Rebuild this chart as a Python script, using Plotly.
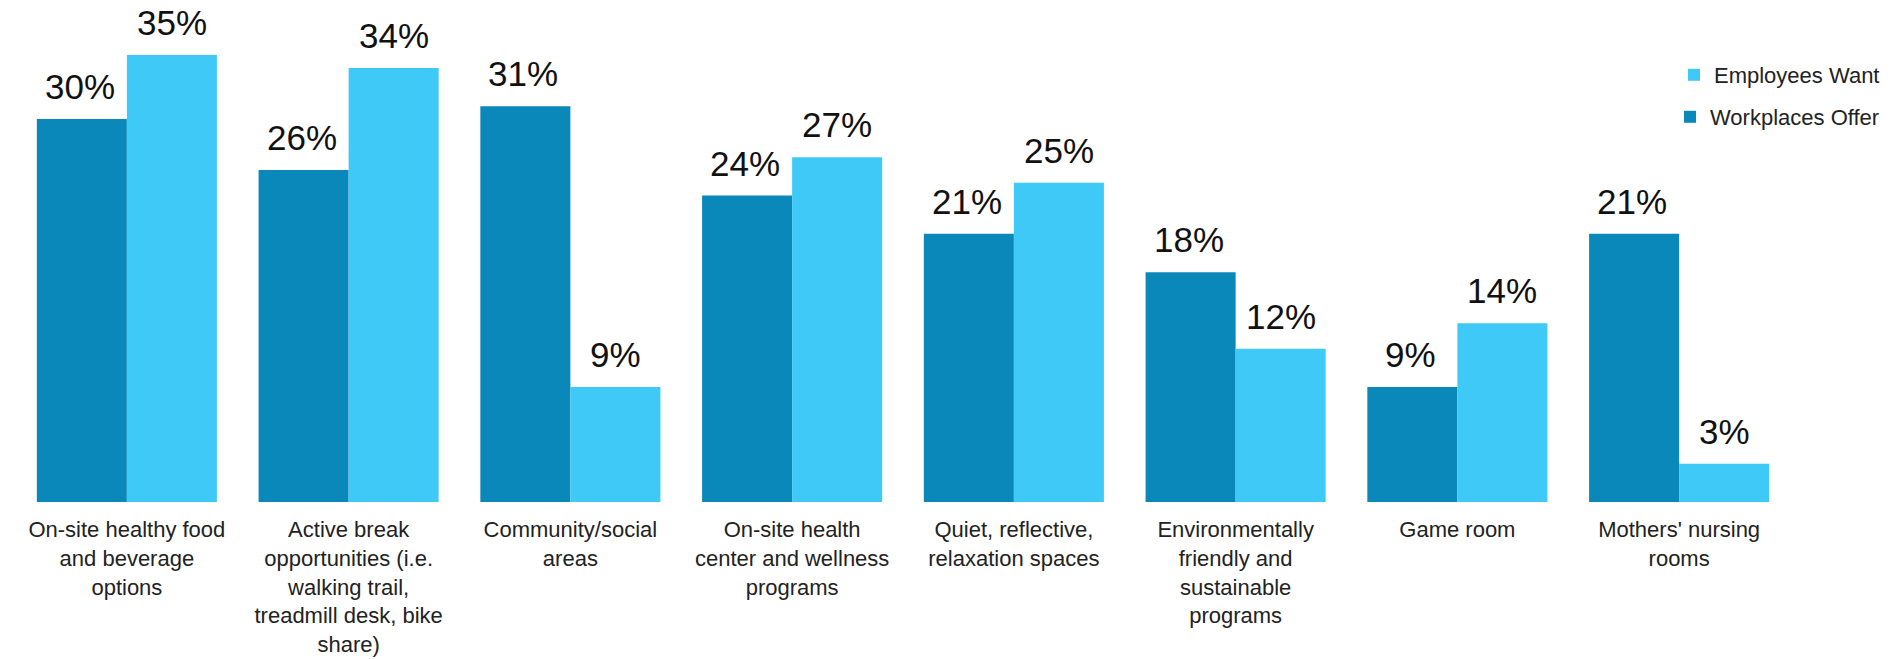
import plotly.graph_objects as go

categories = [
    "On-site healthy food<br>and beverage<br>options",
    "Active break<br>opportunities (i.e.<br>walking trail,<br>treadmill desk, bike<br>share)",
    "Community/social<br>areas",
    "On-site health<br>center and wellness<br>programs",
    "Quiet, reflective,<br>relaxation spaces",
    "Environmentally<br>friendly and<br>sustainable<br>programs",
    "Game room",
    "Mothers' nursing<br>rooms",
]
workplaces_offer = [30, 26, 31, 24, 21, 18, 9, 21]
employees_want = [35, 34, 9, 27, 25, 12, 14, 3]

DARK = "#0a88b9"
LIGHT = "#3fc9f6"
FONT = "Liberation Sans, Arial, sans-serif"

fig = go.Figure()
fig.add_trace(go.Bar(x=categories, y=workplaces_offer, name="Workplaces Offer",
                     marker=dict(color=DARK, line=dict(width=0)), legend="legend2"))
fig.add_trace(go.Bar(x=categories, y=employees_want, name="Employees Want",
                     marker=dict(color=LIGHT, line=dict(width=0)), legend="legend"))

annotations = []
for cat, v in zip(categories, workplaces_offer):
    annotations.append(dict(x=cat, y=v, text=f"{v}%", showarrow=False, xref="x", yref="y",
                            xshift=-47, yshift=11, yanchor="bottom",
                            font=dict(size=35, color="#111111", family=FONT)))
for cat, v in zip(categories, employees_want):
    annotations.append(dict(x=cat, y=v, text=f"{v}%", showarrow=False, xref="x", yref="y",
                            xshift=45, yshift=11, yanchor="bottom",
                            font=dict(size=35, color="#111111", family=FONT)))

legend_style = dict(font=dict(size=22, family=FONT, color="#222222"),
                    bgcolor="rgba(0,0,0,0)", itemwidth=30,
                    xref="container", yref="container",
                    xanchor="right", yanchor="middle")

fig.update_layout(
    width=1893, height=659,
    margin=dict(l=16, r=103, t=20, b=157, autoexpand=False),
    paper_bgcolor="white", plot_bgcolor="white",
    barmode="group", bargap=0.188, bargroupgap=0,
    font=dict(family=FONT, color="#222222"),
    annotations=annotations,
    legend=dict(x=1885 / 1893, y=1 - 75 / 659, **legend_style),
    legend2=dict(x=1885 / 1893, y=1 - 117 / 659, **legend_style),
    showlegend=True,
)
fig.update_xaxes(showline=False, showgrid=False, zeroline=False, ticks="outside",
                 ticklen=8, tickcolor="rgba(0,0,0,0)", tickangle=0,
                 tickfont=dict(size=22, family=FONT, color="#222222"))
fig.update_yaxes(range=[0, 37.75], visible=False, showgrid=False, zeroline=False)

fig.write_html("out.html")
